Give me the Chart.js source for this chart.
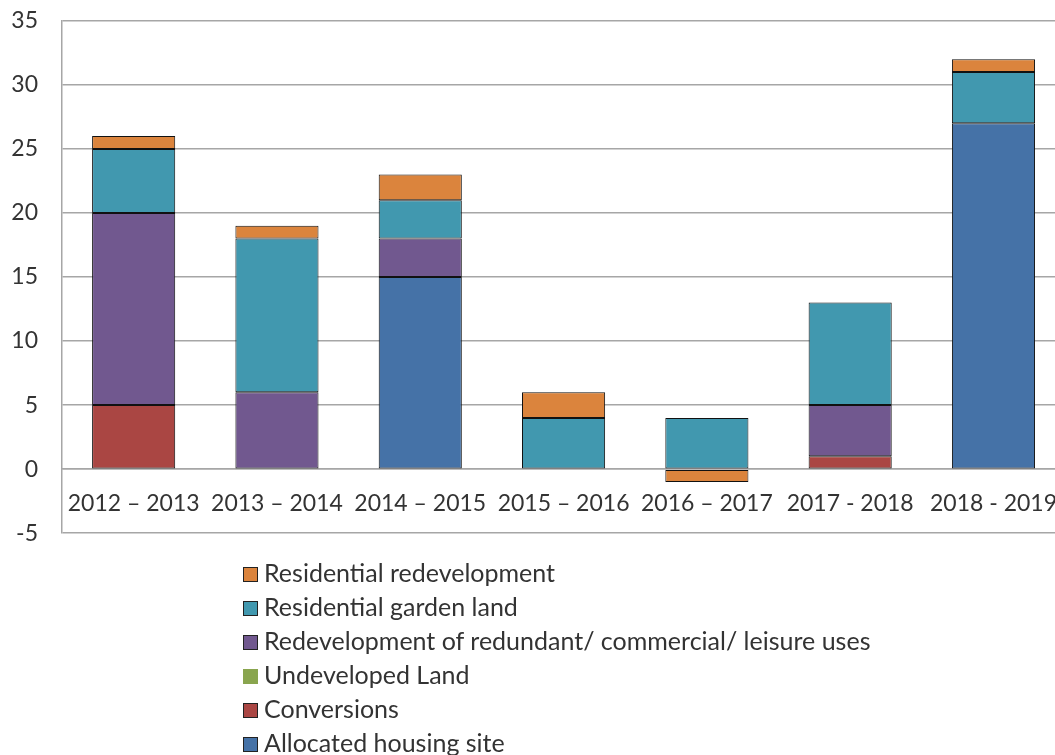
<!DOCTYPE html>
<html>
<head>
<meta charset="utf-8">
<script src="https://cdn.jsdelivr.net/npm/chart.js@4"></script>
<style>
  body { margin: 0; overflow: hidden; background: #fff; font-family: Lato, sans-serif; }
  #wrap { position: absolute; left: 0; top: -17px; width: 1078px; height: 588px; }
  #legend { position: absolute; left: 243px; top: 556px; color: #333; font-size: 25px; }
  .item { height: 34px; line-height: 32px; white-space: nowrap; }
  .box { display: inline-block; width: 13px; height: 13px; margin-right: 6px; vertical-align: 0px; border: 1px solid #222; }
</style>
</head>
<body>
<div id="wrap"><canvas id="housingChart"></canvas></div>
<div id="legend"></div>
<script>
// Chart values
const years = ["2012 – 2013", "2013 – 2014", "2014 – 2015", "2015 – 2016", "2016 – 2017", "2017 - 2018", "2018 - 2019"];
const allocated = [null, null, 15, null, null, null, 27];
const conversions = [5, null, null, null, null, 1, null];
const undeveloped = [null, null, null, null, null, null, null];
const redevelopmentUses = [15, 6, 3, null, null, 4, null];
const gardenLand = [5, 12, 3, 4, 4, 8, 4];
const residentialRedev = [1, 1, 2, 2, -1, null, 1];
const yTicks = [-5, 0, 5, 10, 15, 20, 25, 30, 35];

const ctx = document.getElementById("housingChart").getContext("2d");

function series(label, data, color, border) {
  return {
    label: label,
    data: data,
    backgroundColor: color,
    borderColor: "#111",
    borderWidth: border,
    borderSkipped: false,
    categoryPercentage: 1,
    barPercentage: 0.58
  };
}

const chart = new Chart(ctx, {
  type: "bar",
  data: {
    labels: years,
    datasets: [
      series("Allocated housing site", allocated, "#4572A7", 1),
      series("Conversions", conversions, "#AA4643", 1),
      series("Undeveloped Land", undeveloped, "#89A54E", 0),
      series("Redevelopment of redundant/ commercial/ leisure uses", redevelopmentUses, "#71588F", 1),
      series("Residential garden land", gardenLand, "#4198AF", 1),
      series("Residential redevelopment", residentialRedev, "#DB843D", 1)
    ]
  },
  options: {
    responsive: true,
    maintainAspectRatio: false,
    animation: false,
    layout: { padding: { top: 3, right: 0, bottom: 12, left: 0 } },
    plugins: {
      legend: { display: false },
      tooltip: { enabled: false }
    },
    scales: {
      x: {
        stacked: true,
        position: { y: 0 },
        grid: { display: false, drawTicks: false },
        border: { display: true, color: "#a6a6a6", width: 1.5 },
        ticks: { color: "#333", font: { family: "Lato", size: 23 }, padding: 21, maxRotation: 0, autoSkip: false }
      },
      y: {
        stacked: true,
        min: -5,
        max: 35,
        afterBuildTicks: (scale) => { scale.ticks = yTicks.map(v => ({ value: v })); },
        afterFit: (scale) => { scale.width = 62; },
        grid: { color: "#a6a6a6", lineWidth: 1.5, drawTicks: false },
        border: { display: true, color: "#a6a6a6", width: 1.5 },
        ticks: { color: "#333", font: { family: "Lato", size: 23 }, padding: 24 }
      }
    }
  }
});

// Legend, listed top series first like the original
const legend = document.getElementById("legend");
chart.data.datasets.slice().reverse().forEach(ds => {
  const row = document.createElement("div");
  row.className = "item";
  const box = document.createElement("span");
  box.className = "box";
  box.style.background = ds.backgroundColor;
  if (!ds.borderWidth) box.style.borderColor = "transparent";
  row.appendChild(box);
  row.appendChild(document.createTextNode(ds.label));
  legend.appendChild(row);
});
</script>
</body>
</html>
